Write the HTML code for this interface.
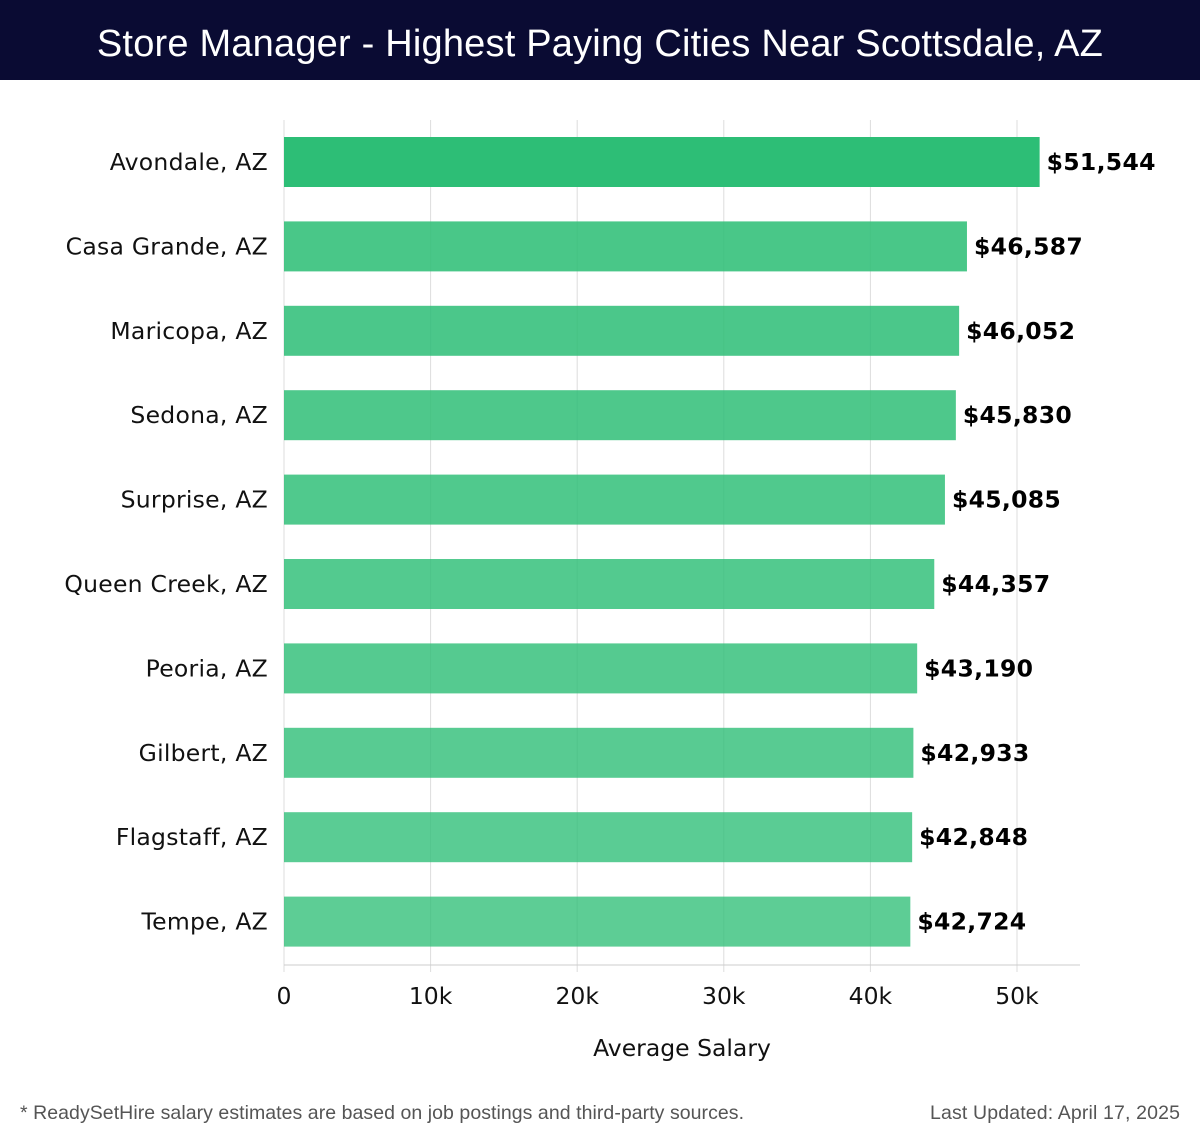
<!DOCTYPE html>
<html><head><meta charset="utf-8">
<style>
body{margin:0;width:1200px;height:1140px;background:#fff;font-family:"DejaVu Sans","Liberation Sans",sans-serif;overflow:hidden}
#title{position:absolute;left:0;top:0;width:1200px;height:80px;background:#0a0b33;color:#fff;font-size:38px;line-height:88px;text-align:center;font-family:"Liberation Sans",sans-serif;letter-spacing:0.2px}
svg{position:absolute;left:0;top:0}
</style></head><body>
<div id="title">Store Manager - Highest Paying Cities Near Scottsdale, AZ</div>
<svg id="chart" width="1200" height="1140"></svg>
<script>
const categories=["Avondale, AZ","Casa Grande, AZ","Maricopa, AZ","Sedona, AZ","Surprise, AZ","Queen Creek, AZ","Peoria, AZ","Gilbert, AZ","Flagstaff, AZ","Tempe, AZ"];
const salaries=[51544,46587,46052,45830,45085,44357,43190,42933,42848,42724];
const valueLabels=["$51,544","$46,587","$46,052","$45,830","$45,085","$44,357","$43,190","$42,933","$42,848","$42,724"];
const ticks=[0,10000,20000,30000,40000,50000];
const tickLabels=["0","10k","20k","30k","40k","50k"];

const NS="http://www.w3.org/2000/svg";
const svg=document.getElementById('chart');
const x0=284,pxPer=(1017-284)/50000;
const x=v=>x0+v*pxPer;
const yTop=137,step=84.4,bh=50;
const y=i=>yTop+i*step;
function mk(t,a){const e=document.createElementNS(NS,t);for(const k in a)e.setAttribute(k,a[k]);svg.appendChild(e);return e;}
ticks.forEach((t,i)=>{
  const g=mk('line',{x1:x(t),x2:x(t),y1:120,y2:972,stroke:'#dddddd','stroke-width':1});
  
  
  const tl=mk('text',{x:x(t),y:1004,'font-size':23.5,'text-anchor':'middle',fill:'#111'});
  tl.textContent=tickLabels[i];
  
  
});
const ax=mk('line',{x1:x0,x2:1080,y1:965,y2:965,stroke:'#cccccc','stroke-width':1});


categories.forEach((c,i)=>{
  const op=i===0?1:0.88-i*0.012;
  const r=mk('rect',{x:x0,y:y(i),width:x(salaries[i])-x0,height:bh,fill:'#2dbe76','fill-opacity':op});
  
  
  const l=mk('text',{x:268,y:y(i)+bh/2+8,'font-size':23.5,'text-anchor':'end',fill:'#111','letter-spacing':'0.25'});
  l.textContent=c;
  
  
  const v=mk('text',{x:x(salaries[i])+7,y:y(i)+bh/2+8,'font-size':23.5,'font-weight':'bold',fill:'#000','letter-spacing':'0.3'});
  v.textContent=valueLabels[i];
  
  
});
const at=mk('text',{x:682,y:1056,'font-size':23.5,'text-anchor':'middle',fill:'#111'});
at.textContent='Average Salary';


const f1=mk('text',{x:20,y:1119,'font-size':19.5,fill:'#555','font-family':'Liberation Sans, sans-serif','textLength':724});
f1.textContent='* ReadySetHire salary estimates are based on job postings and third-party sources.';


const f2=mk('text',{x:1180,y:1119,'font-size':19.5,fill:'#555','text-anchor':'end','font-family':'Liberation Sans, sans-serif','textLength':250});
f2.textContent='Last Updated: April 17, 2025';


</script>
</body></html>
